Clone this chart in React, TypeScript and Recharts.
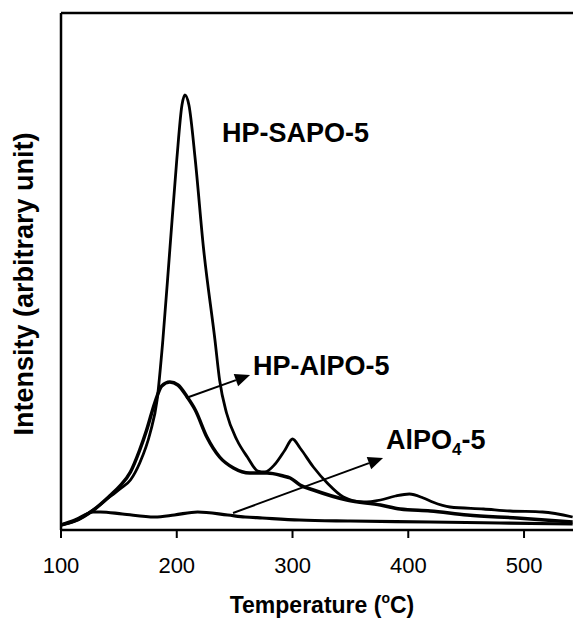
import React from "react";
import { LineChart, Line, XAxis, YAxis, ReferenceLine } from "recharts";

// temperatures (°C) and intensities (arbitrary unit)
const sapoTemp = [100, 112, 128, 142, 151, 160, 168, 177, 183, 188, 194, 200, 204.5, 207, 210.5, 216, 223, 233, 237, 243, 252, 261, 270, 276, 285, 293.5, 300, 306.5, 318, 330, 344, 361, 376, 389, 401, 413, 421, 436, 465, 488, 516, 542];
const sapoInt = [5, 9, 20, 33, 41, 50, 67, 97, 130, 190, 280, 370, 425, 435, 425, 370, 283, 190, 150, 117, 90, 73, 59, 58, 66, 80, 91, 82, 63, 47, 33, 28, 30, 34, 36, 32, 28, 23, 21, 19, 18, 13];

const hpTemp = [100, 112, 128, 142, 151, 160, 168, 174, 181, 187, 194, 201, 209, 216, 226, 237, 249, 263, 278, 292, 298, 306.5, 318, 347, 376, 393, 419, 451, 494, 542];
const hpInt = [5, 9, 20, 34, 44, 58, 80, 100, 127, 144, 148, 145, 133, 120, 93, 73, 62, 57, 57, 54, 52, 45, 40, 30, 25, 21, 19, 15, 12, 8];

const alTemp = [100, 112, 128, 134, 153, 181, 198, 218, 244, 259, 274, 306, 350, 419, 479, 542];
const alInt = [5, 10, 18, 18, 16, 13, 15, 18, 15, 13, 12, 10, 9, 8, 7, 6];

const xTicks = [100, 200, 300, 400, 500];

const toRows = (ts: number[], vs: number[]) => ts.map((t, i) => ({ t, v: vs[i] }));

const FONT = "'Liberation Sans', Arial, sans-serif";

// line with a filled arrowhead at its end
const Arrow = (props: any) => {
  const { x1, y1, x2, y2 } = props;
  const ang = Math.atan2(y2 - y1, x2 - x1);
  const len = 15;
  const half = 6.5;
  const bx = x2 - len * Math.cos(ang);
  const by = y2 - len * Math.sin(ang);
  const px = -Math.sin(ang) * half;
  const py = Math.cos(ang) * half;
  return (
    <g>
      <line x1={x1} y1={y1} x2={bx} y2={by} stroke="#000" strokeWidth={2} />
      <polygon points={`${x2},${y2} ${bx + px},${by + py} ${bx - px},${by - py}`} fill="#000" />
    </g>
  );
};

export default function App() {
  return (
    <div style={{ position: "absolute", left: 0, top: 0, width: 573, height: 620, background: "#fff" }}>
      <LineChart width={573} height={620} margin={{ top: 13, right: 0, bottom: 0, left: 61 }}>
        <XAxis
          type="number"
          dataKey="t"
          domain={[100, 542.3]}
          ticks={xTicks}
          allowDataOverflow
          height={90}
          tickSize={8}
          tickMargin={19}
          tick={{ fontSize: 22, fill: "#000", fontFamily: FONT }}
          tickLine={{ stroke: "#000", strokeWidth: 2 }}
          axisLine={{ stroke: "#000", strokeWidth: 2.5 }}
        />
        <YAxis type="number" domain={[0, 517]} allowDataOverflow hide />
        <ReferenceLine y={517} stroke="#000" strokeWidth={2.5} />
        <ReferenceLine x={100} stroke="#000" strokeWidth={2.5} />
        <Line data={toRows(alTemp, alInt)} dataKey="v" type="monotone" stroke="#000" strokeWidth={3.2} dot={false} isAnimationActive={false} />
        <Line data={toRows(hpTemp, hpInt)} dataKey="v" type="monotone" stroke="#000" strokeWidth={3.5} dot={false} isAnimationActive={false} />
        <Line data={toRows(sapoTemp, sapoInt)} dataKey="v" type="monotone" stroke="#000" strokeWidth={2.8} dot={false} isAnimationActive={false} />
        <ReferenceLine segment={[{ x: 208, y: 132 }, { x: 263.3, y: 155 }]} shape={Arrow} />
        <ReferenceLine segment={[{ x: 248.6, y: 17 }, { x: 378.2, y: 72 }]} shape={Arrow} />
      </LineChart>

      <svg width={573} height={620} style={{ position: "absolute", left: 0, top: 0, pointerEvents: "none" }}>
        <g fontFamily={FONT} fontWeight="bold" fill="#000">
          <text x={222} y={142} fontSize={27}>HP-SAPO-5</text>
          <text x={253} y={375} fontSize={27}>HP-AlPO-5</text>
          <text x={386} y={449} fontSize={27}>
            AlPO<tspan fontSize={17} dy={6}>4</tspan><tspan dy={-6}>-5</tspan>
          </text>
          <text x={322} y={613} fontSize={23} textAnchor="middle">
            Temperature (<tspan fontSize={14} dy={-10}>o</tspan><tspan dy={10}>C)</tspan>
          </text>
          <text x={33} y={284} fontSize={27} textAnchor="middle" transform="rotate(-90 33 284)">
            Intensity (arbitrary unit)
          </text>
        </g>
      </svg>
    </div>
  );
}
